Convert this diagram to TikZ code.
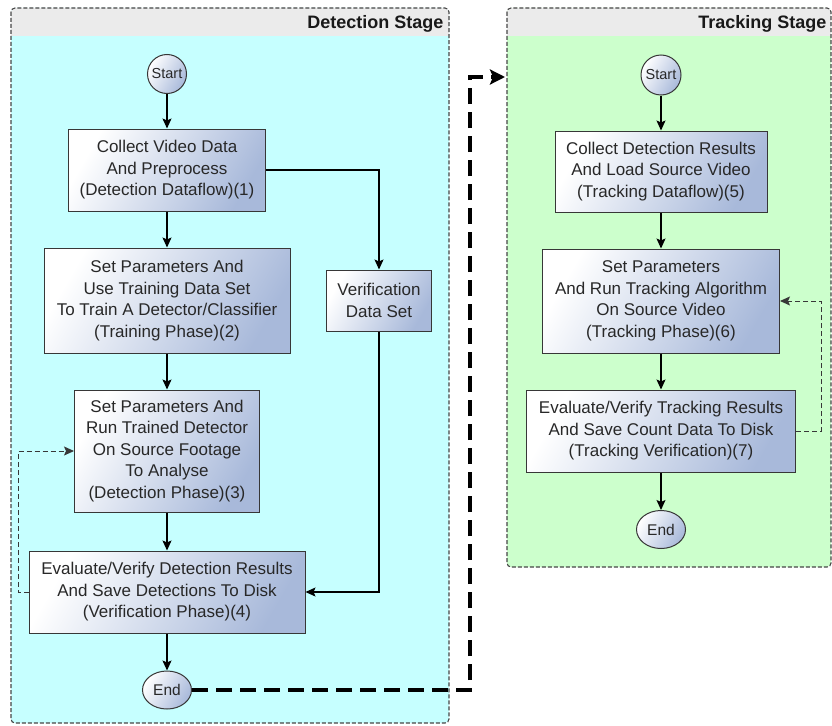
\documentclass[tikz,border=0pt]{standalone}
\usepackage{fontspec}
\setmainfont{Liberation Sans}
\usetikzlibrary{arrows.meta,shapes.geometric}
\definecolor{detbg}{RGB}{198,255,255}
\definecolor{trkbg}{RGB}{204,255,204}
\definecolor{headbg}{RGB}{235,235,235}
\definecolor{nodeblue}{RGB}{168,185,218}
\definecolor{edgegray}{RGB}{55,55,55}
\definecolor{framegray}{RGB}{70,70,70}
\definecolor{txtgray}{RGB}{40,40,40}
\begin{document}
\begin{tikzpicture}[x=1pt,y=-1pt,
  stepbox/.style={draw=edgegray, line width=1pt, left color=white, right color=nodeblue,
    shading angle=60, text=txtgray, align=center, inner sep=0pt,
    font=\fontsize{17}{21.5}\selectfont},
  termcircle/.style={circle, draw=edgegray, line width=1pt, left color=white, right color=nodeblue,
    shading angle=60, text=txtgray, inner sep=0pt, minimum size=39pt,
    font=\fontsize{14.5}{16}\selectfont},
  termoval/.style={ellipse, draw=edgegray, line width=1pt, left color=white, right color=nodeblue,
    shading angle=60, text=txtgray, inner sep=0pt, minimum width=49pt, minimum height=38pt,
    font=\fontsize{15.5}{17}\selectfont},
  frame/.style={draw=framegray, line width=1.1pt, dash pattern=on 4pt off 2pt, rounded corners=4pt},
  stagetitle/.style={anchor=base east, text=black!90, font=\bfseries\fontsize{18}{20}\selectfont},
  flow/.style={draw=black, line width=1.2pt, -{Stealth[length=10pt,width=9pt,inset=2pt]}},
  loopback/.style={draw=edgegray, line width=1pt, dash pattern=on 5pt off 3pt,
    -{Stealth[length=10pt,width=9pt,inset=2pt]}},
  stagelink/.style={draw=black, line width=4pt, dash pattern=on 16pt off 8pt,
    -{Stealth[length=15pt,width=15pt,inset=3pt]}}
]
\useasboundingbox (0,0) rectangle (832,725);

% detection stage container
\fill[detbg, rounded corners=4pt] (11,8) rectangle (449,723);
\begin{scope}
  \clip[rounded corners=4pt] (11,8) rectangle (449,723);
  \fill[headbg] (11,8) rectangle (449,36);
\end{scope}
\draw[frame] (11,8) rectangle (449,723);
\node[stagetitle] (dtitle) at (447,29) {Detection Stage};

% tracking stage container
\fill[trkbg, rounded corners=4pt] (507,8) rectangle (831,567);
\begin{scope}
  \clip[rounded corners=4pt] (507,8) rectangle (831,567);
  \fill[headbg] (507,8) rectangle (831,36);
\end{scope}
\draw[frame] (507,8) rectangle (831,567);
\node[stagetitle] (ttitle) at (830,29) {Tracking Stage};

% detection stage nodes
\node[termcircle] (dstart) at (167,74) {Start};
\node[stepbox, minimum width=197pt, minimum height=82pt] (collect) at (167,170)
  {Collect Video Data\\And Preprocess\\(Detection Dataflow)(1)};
\node[stepbox, minimum width=246pt, minimum height=105pt] (train) at (167,300.5)
  {Set Parameters And\\Use Training Data Set\\To Train A Detector/Classifier\\(Training Phase)(2)};
\node[stepbox, minimum width=185pt, minimum height=122pt] (detect) at (167,451)
  {Set Parameters And\\Run Trained Detector\\On Source Footage\\To Analyse\\(Detection Phase)(3)};
\node[stepbox, minimum width=276pt, minimum height=82pt] (verify) at (167,592)
  {Evaluate/Verify Detection Results\\And Save Detections To Disk\\(Verification Phase)(4)};
\node[termoval] (dend) at (167,690) {End};
\node[stepbox, minimum width=105pt, minimum height=61pt] (verset) at (379,300.5)
  {Verification\\Data Set};

% tracking stage nodes
\node[termcircle, minimum size=40pt] (tstart) at (661,75) {Start};
\node[stepbox, minimum width=212pt, minimum height=81pt] (loadres) at (661,171.5)
  {Collect Detection Results\\And Load Source Video\\(Tracking Dataflow)(5)};
\node[stepbox, minimum width=237pt, minimum height=104pt] (runtrack) at (661,301)
  {Set Parameters\\And Run Tracking Algorithm\\On Source Video\\(Tracking Phase)(6)};
\node[stepbox, minimum width=269pt, minimum height=82pt] (trackver) at (661,431)
  {Evaluate/Verify Tracking Results\\And Save Count Data To Disk\\(Tracking Verification)(7)};
\node[termoval] (tend) at (661,529.5) {End};

% routing points
\coordinate (dloop) at (18,592);
\coordinate (tloop) at (821,431);
\coordinate (linkturn) at (470,690);
\coordinate (trackin) at (505,77);

% detection flow
\draw[flow] (dstart) -- (collect);
\draw[flow] (collect) -- (train);
\draw[flow] (train) -- (detect);
\draw[flow] (detect) -- (verify);
\draw[flow] (verify) -- (dend);
\draw[flow] (collect.east) -| (verset.north);
\draw[flow] (verset.south) |- (verify.east);
\draw[loopback] (verify.west) -- (dloop) |- (detect.west);

% tracking flow
\draw[flow] (tstart) -- (loadres);
\draw[flow] (loadres) -- (runtrack);
\draw[flow] (runtrack) -- (trackver);
\draw[flow] (trackver) -- (tend);
\draw[loopback] (trackver.east) -- (tloop) |- (runtrack.east);

% hand-over between stages
\draw[stagelink] (dend.east) -- (linkturn) |- (trackin);
\end{tikzpicture}
\end{document}
